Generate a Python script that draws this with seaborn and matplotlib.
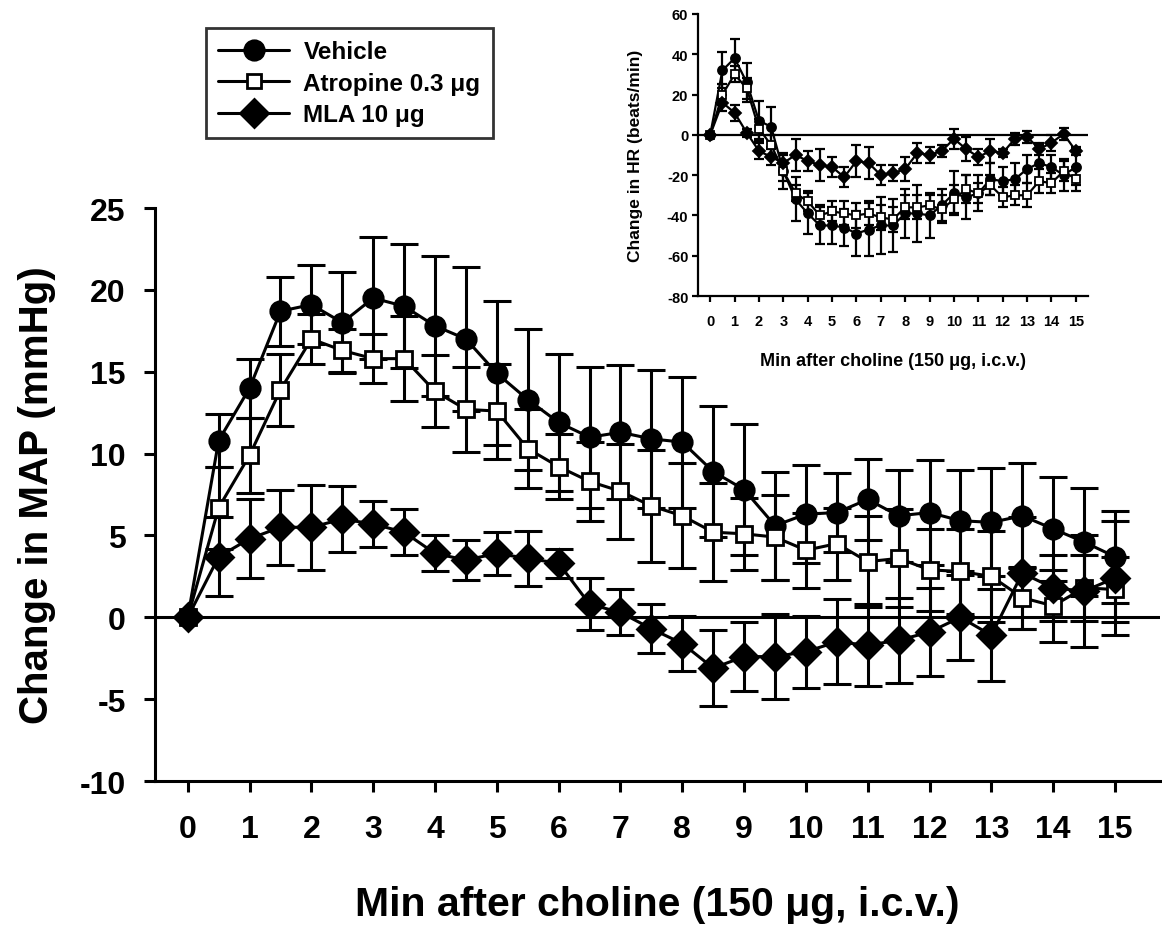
import numpy as np
import pandas as pd
import seaborn as sns
import matplotlib.pyplot as plt
from matplotlib.lines import Line2D

sns.set_style("ticks")
plt.rcParams['font.family'] = ['Liberation Sans', 'DejaVu Sans']
plt.rcParams['font.weight'] = 'bold'
plt.rcParams['text.color'] = 'black'
plt.rcParams['axes.labelcolor'] = 'black'
plt.rcParams['xtick.color'] = 'black'
plt.rcParams['ytick.color'] = 'black'
plt.rcParams['axes.edgecolor'] = 'black'
plt.rcParams['axes.unicode_minus'] = False

minutes = [0, 0.5, 1, 1.5, 2, 2.5, 3, 3.5, 4, 4.5, 5, 5.5, 6, 6.5, 7, 7.5,
           8, 8.5, 9, 9.5, 10, 10.5, 11, 11.5, 12, 12.5, 13, 13.5, 14, 14.5, 15]

# MAP (mmHg)
map_vehicle = [0, 10.8, 14.0, 18.7, 19.1, 18.0, 19.5, 19.0, 17.8, 17.0, 14.9, 13.3, 11.9, 11.0, 11.3, 10.9,
               10.7, 8.9, 7.8, 5.6, 6.3, 6.4, 7.2, 6.2, 6.4, 5.9, 5.8, 6.2, 5.4, 4.6, 3.7]
map_vehicle_sem = [0, 1.6, 1.8, 2.1, 2.4, 3.1, 3.7, 3.8, 4.3, 4.4, 4.4, 4.3, 4.2, 4.3, 4.1, 4.2,
                   4.0, 4.0, 4.0, 3.3, 3.0, 2.4, 2.5, 2.8, 3.2, 3.1, 3.3, 3.2, 3.2, 3.3, 2.8]
map_atropine = [0, 6.7, 9.9, 13.9, 17.0, 16.3, 15.8, 15.8, 13.8, 12.7, 12.6, 10.3, 9.2, 8.3, 7.7, 6.8,
                6.2, 5.2, 5.1, 4.9, 4.1, 4.5, 3.4, 3.6, 2.9, 2.8, 2.5, 1.2, 0.7, 1.8, 1.7]
map_atropine_sem = [0, 2.5, 2.3, 2.2, 1.5, 1.3, 1.5, 2.6, 2.2, 2.6, 2.9, 2.4, 2.0, 2.4, 2.9, 3.4,
                    3.2, 3.0, 2.2, 2.6, 2.3, 2.2, 2.8, 3.0, 2.5, 2.6, 2.8, 1.9, 2.2, 2.0, 2.0]
map_mla = [0, 3.7, 4.8, 5.5, 5.5, 6.0, 5.7, 5.2, 3.9, 3.5, 3.9, 3.6, 3.3, 0.8, 0.3, -0.7,
           -1.6, -3.1, -2.4, -2.4, -2.1, -1.5, -1.7, -1.4, -0.9, 0.0, -1.1, 2.7, 1.8, 1.6, 2.4]
map_mla_sem = [0, 2.4, 2.4, 2.3, 2.6, 2.0, 1.4, 1.4, 1.1, 1.2, 1.3, 1.7, 0.9, 1.6, 1.4, 1.5,
               1.7, 2.3, 2.1, 2.6, 2.2, 2.6, 2.5, 2.6, 2.7, 2.6, 2.8, 3.4, 2.0, 3.4, 3.5]

# HR (beats/min)
hr_vehicle = [0, 32, 38, 26, 7, 4, -18, -32, -39, -45, -45, -46, -49, -47, -45, -45,
              -39, -39, -40, -35, -29, -31, -29, -22, -23, -22, -17, -14, -16, -20, -16]
hr_vehicle_sem = [0, 9, 9.5, 9.5, 10, 10, 9, 11, 10, 9, 9, 9, 11, 13, 14, 13,
                  12, 14, 11, 8, 11, 11, 9, 8, 7, 8, 7, 9, 6, 8, 9]
hr_atropine = [0, 20, 30, 23, 3, -5, -18, -29, -33, -40, -38, -39, -40, -39, -41, -42,
               -36, -36, -35, -37, -32, -27, -29, -25, -31, -30, -30, -23, -24, -18, -22]
hr_atropine_sem = [0, 5, 4, 5, 5, 5, 5, 4, 5, 5, 5, 6, 6, 6, 6, 6,
                   6, 6, 5, 7, 7, 7, 5, 5, 5, 5, 6, 6, 5, 5, 6]
hr_mla = [0, 16, 11, 1, -8, -11, -14, -10, -13, -15, -16, -21, -13, -14, -20, -19,
          -17, -9, -10, -8, -2, -7, -11, -8, -9, -2, -1, -7, -4, 0.5, -8]
hr_mla_sem = [0, 4, 4, 2, 4, 4, 4, 8, 5, 8, 5, 5, 8, 8, 5, 4,
              6, 5, 4, 3, 5, 6, 4, 6, 2, 3, 3, 3, 4, 3, 2]

labels = ['Vehicle', 'Atropine 0.3 \u03bcg', 'MLA 10 \u03bcg']
markers = ['o', 's', 'D']
facecolors = ['black', 'white', 'black']

main_series = [(map_vehicle, map_vehicle_sem), (map_atropine, map_atropine_sem), (map_mla, map_mla_sem)]
inset_series = [(hr_vehicle, hr_vehicle_sem), (hr_atropine, hr_atropine_sem), (hr_mla, hr_mla_sem)]

fig = plt.figure(figsize=(11.62, 9.29), dpi=100)
ax = fig.add_axes([0.1334, 0.1582, 0.865, 0.6168])
axin = fig.add_axes([0.6007, 0.6803, 0.3356, 0.3036])


def draw(axis, series, mew, msize, lw, capsize):
    for (vals, sem), lab, mk, fc in zip(series, labels, markers, facecolors):
        df = pd.DataFrame({'min': minutes, 'val': vals})
        axis.errorbar(df['min'], df['val'], yerr=sem, fmt='none', ecolor='black',
                      elinewidth=lw, capsize=capsize, capthick=lw, zorder=2)
        sns.lineplot(data=df, x='min', y='val', ax=axis, color='black', lw=lw,
                     marker=mk, markersize=msize * (0.8 if mk == 's' else 1.0),
                     markerfacecolor=fc, markeredgecolor='black',
                     markeredgewidth=mew, label=lab, legend=False, zorder=3)
    axis.axhline(0, color='black', lw=lw, zorder=1)
    for s in ['top', 'right']:
        axis.spines[s].set_visible(False)
    for s in ['left', 'bottom']:
        axis.spines[s].set_linewidth(lw)


# main panel
draw(ax, main_series, 2, 14, 2.2, 10)
ax.set_xlim(-0.53, 15.73)
ax.set_ylim(-10, 25)
ax.set_xticks(range(0, 16))
ax.set_yticks(range(-10, 26, 5))
ax.tick_params(axis='both', direction='out', length=8, width=2.2, labelsize=23)
ax.tick_params(axis='x', pad=16)
ax.tick_params(axis='y', pad=13)
for t in ax.get_xticklabels() + ax.get_yticklabels():
    t.set_fontweight('bold')
ax.set_xlabel('Min after choline (150 \u03bcg, i.c.v.)', fontsize=29.5, fontweight='bold', labelpad=29)
ax.set_ylabel('Change in MAP (mmHg)', fontsize=29, fontweight='bold', labelpad=17)

handles = [Line2D([], [], color='black', lw=2.2, marker=m, markersize=14 * (0.7 if m == 's' else 1.0),
                  markerfacecolor=fc, markeredgecolor='black', markeredgewidth=2)
           for m, fc in zip(markers, facecolors)]
leg = fig.legend(handles, labels, loc='upper left', bbox_to_anchor=(0.167, 0.982),
                 frameon=True, fancybox=False, edgecolor='black', handlelength=2.9,
                 handletextpad=0.6, prop={'size': 17.5, 'weight': 'bold'},
                 borderpad=0.5, labelspacing=0.35)
leg.get_frame().set_linewidth(2)

# inset
draw(axin, inset_series, 1.3, 6.5, 1.6, 3.5)
axin.set_xlim(-0.5, 15.5)
axin.set_ylim(-80, 60)
axin.set_xticks(range(0, 16))
axin.set_yticks(range(-80, 61, 20))
axin.tick_params(axis='both', direction='out', length=4, width=1.6, labelsize=10.5)
axin.tick_params(axis='x', pad=9)
axin.tick_params(axis='y', pad=3)
for t in axin.get_xticklabels() + axin.get_yticklabels():
    t.set_fontweight('bold')
axin.set_xlabel('Min after choline (150 \u03bcg, i.c.v.)', fontsize=13, fontweight='bold', labelpad=17)
axin.set_ylabel('Change in HR (beats/min)', fontsize=12.5, fontweight='bold', labelpad=17)

fig.savefig('out.png', dpi=100)
